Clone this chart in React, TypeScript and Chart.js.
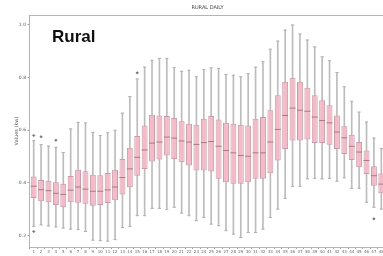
import React, { useEffect, useRef } from "react";
import { Chart, registerables } from "chart.js";

Chart.register(...registerables);

const categories = [
  "1", "2", "3", "4", "5", "6", "7", "8", "9", "10", "11", "12",
  "13", "14", "15", "16", "17", "18", "19", "20", "21", "22", "23", "24",
  "25", "26", "27", "28", "29", "30", "31", "32", "33", "34", "35", "36",
  "37", "38", "39", "40", "41", "42", "43", "44", "45", "46", "47", "48",
];

const whiskerLow = [
  0.235, 0.24, 0.236, 0.232, 0.228, 0.224, 0.222, 0.215, 0.182, 0.18, 0.178, 0.184,
  0.23, 0.234, 0.275, 0.275, 0.303, 0.303, 0.298, 0.307, 0.285, 0.275, 0.256, 0.268,
  0.243, 0.237, 0.218, 0.205, 0.192, 0.211, 0.211, 0.224, 0.268, 0.3, 0.341, 0.387,
  0.387, 0.415, 0.417, 0.415, 0.417, 0.406, 0.419, 0.379, 0.379, 0.326, 0.307, 0.3,
];
const q1 = [
  0.342, 0.33, 0.326, 0.316, 0.307, 0.326, 0.324, 0.32, 0.313, 0.316, 0.323, 0.334,
  0.356, 0.383, 0.427, 0.453, 0.481, 0.489, 0.504, 0.491, 0.478, 0.466, 0.447, 0.447,
  0.443, 0.415, 0.402, 0.396, 0.396, 0.402, 0.415, 0.415, 0.436, 0.485, 0.529, 0.561,
  0.561, 0.565, 0.551, 0.551, 0.545, 0.529, 0.51, 0.487, 0.459, 0.434, 0.389, 0.36,
];
const median = [
  0.387, 0.374, 0.37, 0.36, 0.356, 0.372, 0.384, 0.376, 0.368, 0.368, 0.373, 0.384,
  0.42, 0.453, 0.497, 0.525, 0.551, 0.555, 0.574, 0.57, 0.559, 0.555, 0.546, 0.553,
  0.557, 0.539, 0.523, 0.514, 0.504, 0.501, 0.514, 0.514, 0.555, 0.603, 0.656, 0.684,
  0.676, 0.672, 0.65, 0.637, 0.628, 0.593, 0.571, 0.539, 0.517, 0.485, 0.427, 0.395,
];
const q3 = [
  0.424, 0.411, 0.408, 0.402, 0.396, 0.426, 0.45, 0.444, 0.431, 0.429, 0.437, 0.45,
  0.491, 0.533, 0.578, 0.618, 0.659, 0.656, 0.654, 0.646, 0.634, 0.625, 0.621, 0.644,
  0.654, 0.641, 0.628, 0.625, 0.621, 0.618, 0.644, 0.65, 0.676, 0.733, 0.784, 0.799,
  0.784, 0.761, 0.733, 0.714, 0.695, 0.656, 0.615, 0.583, 0.555, 0.523, 0.463, 0.435,
];
const whiskerHigh = [
  0.56, 0.545, 0.54, 0.535, 0.515, 0.605, 0.63, 0.628, 0.592, 0.58, 0.59, 0.6,
  0.665, 0.728, 0.795, 0.84, 0.866, 0.873, 0.873, 0.838, 0.824, 0.828, 0.803, 0.83,
  0.837, 0.835, 0.812, 0.809, 0.803, 0.815, 0.84, 0.86, 0.908, 0.939, 0.981, 1.0,
  0.966, 0.943, 0.917, 0.879, 0.864, 0.819, 0.765, 0.71, 0.669, 0.631, 0.57, 0.53,
];
const outlierCategories = ["1", "1", "2", "4", "15", "47"];
const outlierValues = [0.58, 0.215, 0.575, 0.562, 0.818, 0.263];

const yTicks = [0.2, 0.4, 0.6, 0.8, 1.0];

const framePlugin = {
  id: "frame",
  beforeDatasetsDraw(chart: any) {
    const { ctx, chartArea: a } = chart;
    ctx.save();
    ctx.strokeStyle = "#b4b4b4";
    ctx.lineWidth = 1;
    ctx.strokeRect(
      Math.round(a.left) - 0.5,
      Math.round(a.top) + 0.5,
      Math.round(a.right - a.left),
      Math.round(a.bottom - a.top)
    );
    ctx.restore();
  },
};

export default function App() {
  const canvasRef = useRef<HTMLCanvasElement | null>(null);

  useEffect(() => {
    if (!canvasRef.current) return;
    Chart.defaults.font.family = "'DejaVu Sans', sans-serif";
    const chart = new Chart(canvasRef.current, {
      type: "bar",
      data: {
        labels: categories,
        datasets: [
          {
            type: "bar",
            label: "whiskers",
            data: categories.map((_, i) => [whiskerLow[i], whiskerHigh[i]]) as any,
            backgroundColor: "#bcbcbc",
            borderWidth: 0,
            barThickness: 1,
            grouped: false,
            order: 5,
          } as any,
          {
            type: "bar",
            label: "box",
            data: categories.map((_, i) => [q1[i], q3[i]]) as any,
            backgroundColor: "#f3bac7",
            borderColor: "#c99aa7",
            borderWidth: 1,
            borderSkipped: false,
            categoryPercentage: 0.8,
            barPercentage: 1,
            grouped: false,
            order: 4,
          } as any,
          {
            type: "line",
            label: "capHigh",
            data: whiskerHigh,
            showLine: false,
            pointStyle: "line",
            pointRadius: 1.6,
            borderColor: "#b0b0b0",
            borderWidth: 1,
            order: 3,
          } as any,
          {
            type: "line",
            label: "capLow",
            data: whiskerLow,
            showLine: false,
            pointStyle: "line",
            pointRadius: 1.6,
            borderColor: "#b0b0b0",
            borderWidth: 1,
            order: 3,
          } as any,
          {
            type: "line",
            label: "median",
            data: median,
            showLine: false,
            pointStyle: "line",
            pointRadius: 3,
            borderColor: "#a87a87",
            borderWidth: 1,
            order: 2,
          } as any,
          {
            type: "line",
            label: "outliers",
            data: outlierCategories.map((c, i) => ({ x: c, y: outlierValues[i] })) as any,
            showLine: false,
            pointStyle: "rectRot",
            pointRadius: 1.3,
            backgroundColor: "#777777",
            borderColor: "#666666",
            borderWidth: 0.5,
            order: 1,
          } as any,
        ],
      },
      options: {
        animation: false,
        responsive: false,
        devicePixelRatio: 1,
        events: [],
        layout: { padding: { left: 0, right: 5, top: 0, bottom: 0 } },
        plugins: {
          legend: { display: false },
          tooltip: { enabled: false },
          title: {
            display: true,
            text: "RURAL DAILY",
            fullSize: false,
            color: "#444",
            font: { size: 5, weight: "normal", lineHeight: 1.2 },
            padding: { top: 5, bottom: 4 },
          },
        },
        scales: {
          x: {
            type: "category",
            offset: true,
            border: { display: false },
            grid: {
              display: true,
              drawOnChartArea: false,
              drawTicks: true,
              tickLength: 2,
              color: "#a0a0a0",
            },
            ticks: {
              autoSkip: false,
              maxRotation: 0,
              minRotation: 0,
              padding: 1,
              color: "#666",
              font: { size: 4 },
            },
            afterFit: (s: any) => {
              s.height = 9;
            },
          },
          y: {
            type: "linear",
            min: 0.156,
            max: 1.038,
            border: { display: false },
            afterBuildTicks: (s: any) => {
              s.ticks = yTicks.map((v) => ({ value: v }));
            },
            grid: {
              drawOnChartArea: false,
              drawTicks: true,
              tickLength: 2.5,
              color: "#a0a0a0",
            },
            ticks: {
              callback: (v: any) => Number(v).toFixed(1),
              color: "#555",
              padding: 1.5,
              font: { size: 4.5 },
            },
            title: {
              display: true,
              text: "Values (kw)",
              color: "#555",
              font: { size: 5 },
              padding: { top: 13.5, bottom: 0 },
            },
            afterFit: (s: any) => {
              s.width = 30;
            },
          },
        },
      } as any,
      plugins: [framePlugin],
    });
    return () => chart.destroy();
  }, []);

  return (
    <div
      style={{
        position: "absolute",
        left: 0,
        top: 0,
        width: 383,
        height: 256,
        overflow: "hidden",
        background: "#fff",
      }}
    >
      <canvas
        ref={canvasRef}
        width={390}
        height={256}
        style={{ display: "block", width: 390, height: 256 }}
      />
      <div
        style={{
          position: "absolute",
          left: 52,
          top: 28,
          font: "bold 17px 'Liberation Sans', Arial, sans-serif",
          lineHeight: 1,
          color: "#111",
        }}
      >
        Rural
      </div>
    </div>
  );
}
